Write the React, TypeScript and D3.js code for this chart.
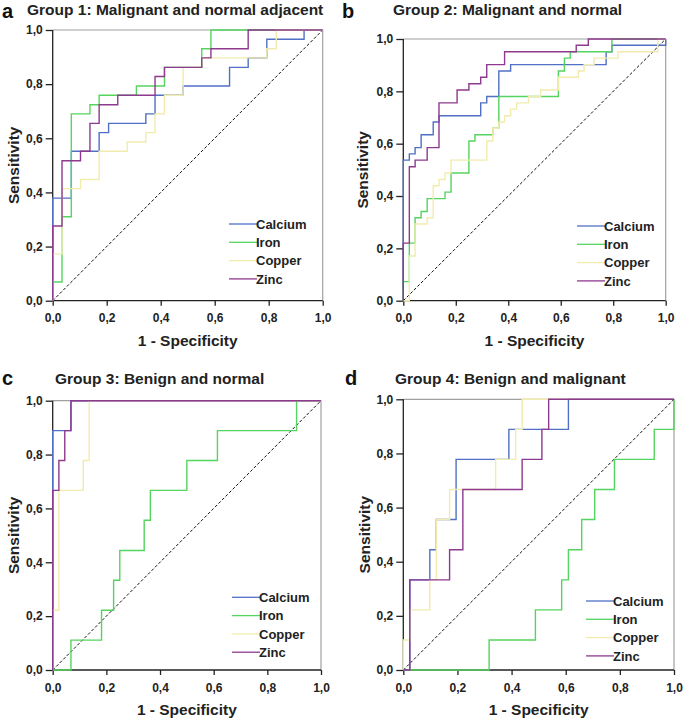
import React, { useEffect, useRef } from "react";
import * as d3 from "d3";

// series shown in every panel
const seriesNames = ["Calcium", "Iron", "Copper", "Zinc"];
const seriesColors = ["#5070c6", "#55d45f", "#f1ecae", "#8e3a8e"];

const panelLetters = ["a", "b", "c", "d"];
const panelTitles = [
  "Group 1: Malignant and normal adjacent",
  "Group 2: Malignant and normal",
  "Group 3: Benign and normal",
  "Group 4: Benign and malignant",
];
const tickValues = [0, 0.2, 0.4, 0.6, 0.8, 1.0];

// ROC points: [1 - specificity, sensitivity] where the curve steps up
const g1Calcium = [[0, 0], [0, 0.379], [0.069, 0.552], [0.172, 0.621], [0.207, 0.655], [0.345, 0.69], [0.379, 0.759], [0.483, 0.793], [0.655, 0.862], [0.724, 0.897], [0.793, 0.966], [0.931, 1], [1, 1]];
const g1Iron = [[0, 0], [0, 0.069], [0.0345, 0.31], [0.069, 0.69], [0.138, 0.724], [0.172, 0.759], [0.31, 0.793], [0.414, 0.862], [0.552, 0.931], [0.586, 1], [1, 1]];
const g1Copper = [[0, 0], [0, 0.172], [0.0345, 0.414], [0.103, 0.448], [0.172, 0.552], [0.276, 0.586], [0.345, 0.621], [0.379, 0.69], [0.414, 0.759], [0.483, 0.862], [0.552, 0.897], [0.793, 0.931], [0.828, 1], [1, 1]];
const g1Zinc = [[0, 0], [0, 0.276], [0.0345, 0.517], [0.103, 0.552], [0.138, 0.655], [0.172, 0.724], [0.241, 0.759], [0.379, 0.828], [0.414, 0.862], [0.552, 0.897], [0.586, 0.931], [0.724, 1], [1, 1]];

const g2Calcium = [[0, 0], [0, 0.537], [0.023, 0.561], [0.045, 0.585], [0.068, 0.634], [0.114, 0.683], [0.136, 0.707], [0.295, 0.756], [0.318, 0.78], [0.364, 0.878], [0.409, 0.902], [0.773, 0.951], [0.795, 0.976], [1, 1]];
const g2Iron = [[0, 0], [0, 0.073], [0.023, 0.22], [0.045, 0.317], [0.068, 0.341], [0.091, 0.39], [0.159, 0.415], [0.182, 0.488], [0.25, 0.61], [0.273, 0.634], [0.341, 0.659], [0.364, 0.78], [0.591, 0.878], [0.614, 0.927], [0.636, 0.951], [0.795, 1], [1, 1]];
const g2Copper = [[0, 0], [0.023, 0.171], [0.045, 0.293], [0.091, 0.317], [0.114, 0.439], [0.136, 0.463], [0.159, 0.488], [0.182, 0.537], [0.318, 0.61], [0.341, 0.659], [0.364, 0.683], [0.386, 0.707], [0.409, 0.732], [0.432, 0.756], [0.477, 0.78], [0.523, 0.805], [0.591, 0.854], [0.667, 0.878], [0.689, 0.902], [0.727, 0.927], [0.818, 0.951], [0.97, 1], [1, 1]];
const g2Zinc = [[0, 0], [0, 0.22], [0.023, 0.512], [0.045, 0.537], [0.091, 0.585], [0.136, 0.756], [0.205, 0.805], [0.25, 0.829], [0.295, 0.854], [0.318, 0.902], [0.386, 0.951], [0.659, 0.976], [0.705, 1], [1, 1]];

const g3Calcium = [[0, 0], [0, 0.889], [0.068, 1], [1, 1]];
const g3Iron = [[0, 0], [0.068, 0.111], [0.182, 0.222], [0.227, 0.333], [0.25, 0.444], [0.341, 0.556], [0.364, 0.667], [0.5, 0.778], [0.614, 0.889], [0.909, 1], [1, 1]];
const g3Copper = [[0, 0], [0, 0.222], [0.023, 0.667], [0.114, 0.778], [0.136, 1], [1, 1]];
const g3Zinc = [[0, 0], [0, 0.667], [0.023, 0.778], [0.045, 0.889], [0.068, 1], [1, 1]];

const g4Calcium = [[0, 0], [0.024, 0.333], [0.098, 0.444], [0.122, 0.556], [0.195, 0.778], [0.39, 0.889], [0.61, 1], [1, 1]];
const g4Iron = [[0, 0], [0.317, 0.111], [0.488, 0.222], [0.585, 0.333], [0.61, 0.444], [0.659, 0.556], [0.707, 0.667], [0.78, 0.778], [0.927, 0.889], [1, 1]];
const g4Copper = [[0, 0], [0, 0.111], [0.024, 0.222], [0.098, 0.333], [0.122, 0.556], [0.171, 0.667], [0.341, 0.778], [0.415, 0.889], [0.439, 1], [1, 1]];
const g4Zinc = [[0, 0], [0.024, 0.333], [0.171, 0.444], [0.22, 0.667], [0.439, 0.778], [0.512, 0.889], [0.537, 1], [1, 1]];

const panelSeries = [
  [g1Calcium, g1Iron, g1Copper, g1Zinc],
  [g2Calcium, g2Iron, g2Copper, g2Zinc],
  [g3Calcium, g3Iron, g3Copper, g3Zinc],
  [g4Calcium, g4Iron, g4Copper, g4Zinc],
];

// pixel layout of the four panels
const layouts = [
  { left: 52.7, right: 322.7, top: 30, bottom: 300.7, letterX: 2, letterY: 18, titleX: 27, titleY: 15, ylabX: 19, legX: 229, legY: 224 },
  { left: 403.3, right: 665.7, top: 39, bottom: 300.7, letterX: 342, letterY: 18, titleX: 393, titleY: 15, ylabX: 368, legX: 577, legY: 226 },
  { left: 52.7, right: 321, top: 400.7, bottom: 670, letterX: 2, letterY: 385, titleX: 55, titleY: 384, ylabX: 19, legX: 232, legY: 597.3 },
  { left: 403.3, right: 674, top: 399.3, bottom: 670, letterX: 345, letterY: 385, titleX: 395, titleY: 384, ylabX: 370, legX: 586, legY: 601 },
];

const FONT = "Arial, 'Liberation Sans', sans-serif";

export default function App() {
  const svgRef = useRef<SVGSVGElement>(null);

  useEffect(() => {
    const svg = d3.select(svgRef.current);
    svg.selectAll("*").remove();
    const fmt = d3.formatLocale({ decimal: ",", thousands: ".", grouping: [3], currency: ["", ""] }).format(".1f");

    layouts.forEach((L, pi) => {
      const x = d3.scaleLinear().domain([0, 1]).range([L.left, L.right]);
      const y = d3.scaleLinear().domain([0, 1]).range([L.bottom, L.top]);
      const g = svg.append("g");

      // frame: top and right lighter
      g.append("line").attr("x1", L.left).attr("x2", L.right).attr("y1", L.top).attr("y2", L.top)
        .attr("stroke", "#a0a0a0").attr("stroke-width", 1.2);
      g.append("line").attr("x1", L.right).attr("x2", L.right).attr("y1", L.top).attr("y2", L.bottom)
        .attr("stroke", "#a0a0a0").attr("stroke-width", 1.2);

      // diagonal reference
      g.append("line")
        .attr("x1", x(0)).attr("y1", y(0)).attr("x2", x(1)).attr("y2", y(1))
        .attr("stroke", "#111").attr("stroke-width", 1).attr("stroke-dasharray", "3,2");

      // axes
      const yAxis = g.append("g").attr("transform", `translate(${L.left},0)`)
        .call(d3.axisLeft(y).tickValues(tickValues).tickSize(7).tickPadding(3).tickFormat((d: any) => fmt(d)));
      const xAxis = g.append("g").attr("transform", `translate(0,${L.bottom})`)
        .call(d3.axisBottom(x).tickValues(tickValues).tickSize(5).tickPadding(8).tickFormat((d: any) => fmt(d)));
      [xAxis, yAxis].forEach((ax) => {
        ax.select(".domain").remove();
        ax.selectAll(".tick line").attr("stroke", "#222").attr("stroke-width", 1.3);
        ax.selectAll(".tick text").attr("fill", "#222").attr("font-family", FONT)
          .attr("font-weight", "bold").attr("font-size", 12);
      });
      g.append("line").attr("x1", L.left).attr("x2", L.left).attr("y1", L.top).attr("y2", L.bottom)
        .attr("stroke", "#222").attr("stroke-width", 1.3);
      g.append("line").attr("x1", L.left).attr("x2", L.right).attr("y1", L.bottom).attr("y2", L.bottom)
        .attr("stroke", "#222").attr("stroke-width", 1.3);

      // curves
      const line = d3.line<number[]>()
        .x((d) => x(d[0]))
        .y((d) => y(d[1]))
        .curve(d3.curveStepAfter);
      panelSeries[pi].forEach((pts, si) => {
        g.append("path")
          .attr("d", line(pts as number[][]))
          .attr("fill", "none")
          .attr("stroke", seriesColors[si])
          .attr("stroke-width", 1.4);
      });

      // legend
      seriesNames.forEach((name, si) => {
        const ry = L.legY + si * 18.3;
        g.append("line").attr("x1", L.legX).attr("x2", L.legX + 28).attr("y1", ry).attr("y2", ry)
          .attr("stroke", seriesColors[si]).attr("stroke-width", 1.3);
        g.append("text").attr("x", L.legX + 27).attr("y", ry + 4.6)
          .attr("font-family", FONT).attr("font-weight", "bold").attr("font-size", 13)
          .attr("fill", "#222").text(name);
      });

      // axis titles
      g.append("text")
        .attr("transform", `translate(${L.ylabX},${(L.top + L.bottom) / 2}) rotate(-90)`)
        .attr("text-anchor", "middle")
        .attr("font-family", FONT).attr("font-weight", "bold").attr("font-size", 15.5)
        .attr("fill", "#222").text("Sensitivity");
      g.append("text")
        .attr("x", (L.left + L.right) / 2).attr("y", L.bottom + 45)
        .attr("text-anchor", "middle")
        .attr("font-family", FONT).attr("font-weight", "bold").attr("font-size", 15.5)
        .attr("fill", "#222").text("1 - Specificity");

      // panel letter and title
      g.append("text").attr("x", L.letterX).attr("y", L.letterY)
        .attr("font-family", FONT).attr("font-weight", "bold").attr("font-size", 20)
        .attr("fill", "#111").text(panelLetters[pi]);
      g.append("text").attr("x", L.titleX).attr("y", L.titleY)
        .attr("font-family", FONT).attr("font-weight", "bold").attr("font-size", 15.5)
        .attr("fill", "#222").text(panelTitles[pi]);
    });
  }, []);

  return (
    <svg
      ref={svgRef}
      width={685}
      height={721}
      style={{ position: "absolute", left: 0, top: 0, background: "#fff" }}
    />
  );
}
